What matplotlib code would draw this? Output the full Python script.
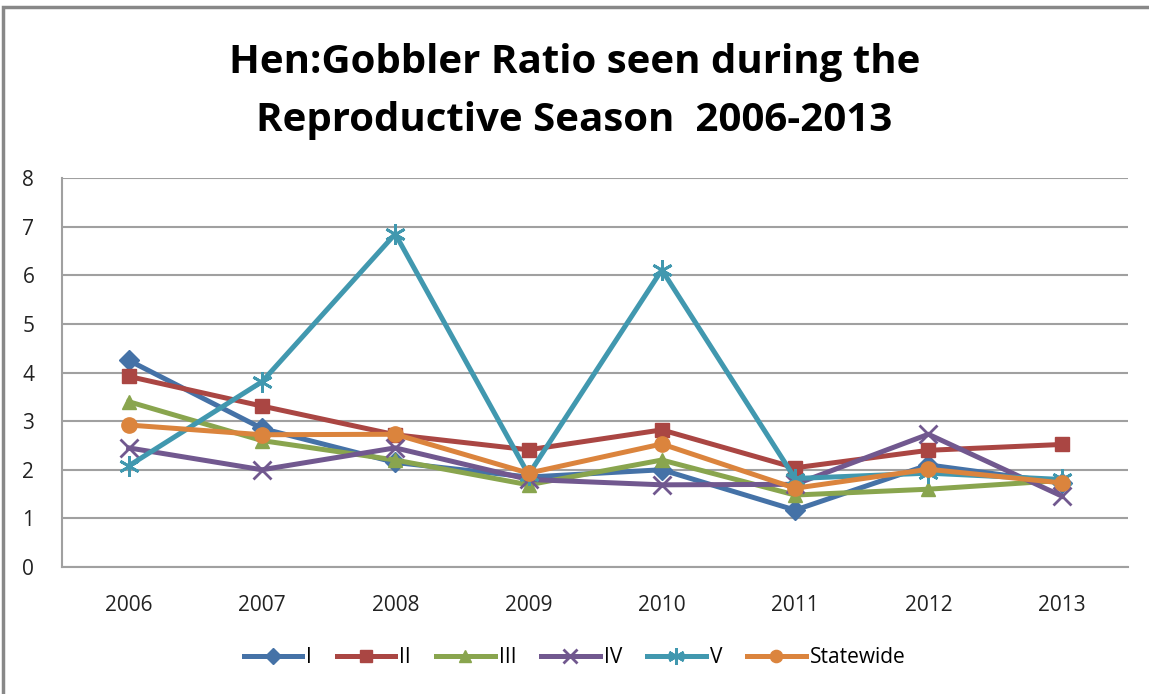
import matplotlib.pyplot as plt
from matplotlib.patches import Rectangle

# data
years = ['2006', '2007', '2008', '2009', '2010', '2011', '2012', '2013']
region_I = [4.25, 2.85, 2.15, 1.85, 2.0, 1.17, 2.1, 1.73]
region_II = [3.92, 3.31, 2.72, 2.41, 2.82, 2.04, 2.4, 2.52]
region_III = [3.4, 2.6, 2.2, 1.69, 2.2, 1.48, 1.6, 1.78]
region_IV = [2.45, 2.0, 2.45, 1.8, 1.69, 1.7, 2.73, 1.46]
region_V = [2.08, 3.81, 6.85, 1.9, 6.11, 1.82, 1.93, 1.8]
statewide = [2.92, 2.72, 2.73, 1.93, 2.53, 1.62, 2.01, 1.73]

series = [
    ('I', region_I, '#4572A7', 'D', 10),
    ('II', region_II, '#AA4643', 's', 10),
    ('III', region_III, '#89A54E', '^', 10),
    ('IV', region_IV, '#71588F', 'x', 13),
    ('V', region_V, '#4198AF', (6, 2, 0), 15),
    ('Statewide', statewide, '#DB843D', 'o', 11),
]

plt.rcParams['font.family'] = ['Open Sans', 'DejaVu Sans']

fig = plt.figure(figsize=(11.49, 6.94), dpi=100)
ax = fig.add_axes([0.054, 0.183, 0.928, 0.5605])

x = range(len(years))
for name, vals, col, mk, ms in series:
    ax.plot(x, vals, color=col, lw=3.6, marker=mk, markersize=ms,
            markeredgewidth=2 if mk in ('x', (6, 2, 0)) else 1,
            markeredgecolor=col, markerfacecolor=col, label=name)

ax.set_xlim(-0.5, 7.5)
ax.set_ylim(0, 8)
ax.set_yticks(range(0, 9))
ax.set_xticks(list(x))
ax.set_xticklabels(years)
ax.tick_params(length=0, labelsize=15, colors='#222222')
ax.tick_params(axis='x', pad=20)
ax.tick_params(axis='y', pad=20)
ax.yaxis.grid(True, color='#a0a0a0', lw=1.5)
ax.set_axisbelow(True)
for s in ['top', 'right']:
    ax.spines[s].set_visible(False)
for s in ['left', 'bottom']:
    ax.spines[s].set_color('#a0a0a0')
    ax.spines[s].set_linewidth(1.5)

fig.text(0.5, 0.91, 'Hen:Gobbler Ratio seen during the', ha='center', va='center',
         fontsize=29, fontweight='bold')
fig.text(0.5, 0.827, 'Reproductive Season  2006-2013', ha='center', va='center',
         fontsize=29, fontweight='bold')

fig.legend(loc='center', bbox_to_anchor=(0.5, 0.052), ncol=6, frameon=False,
           fontsize=15, handlelength=2.8, handletextpad=0.2, columnspacing=1.2,
           markerscale=0.8)

# outer border
fig.patches.append(Rectangle((0.003, -0.05), 1.2, 0.05 + 1 - 7 / 694,
                             transform=fig.transFigure, fill=False,
                             edgecolor='#888888', lw=2.5))

fig.savefig('out.png')
